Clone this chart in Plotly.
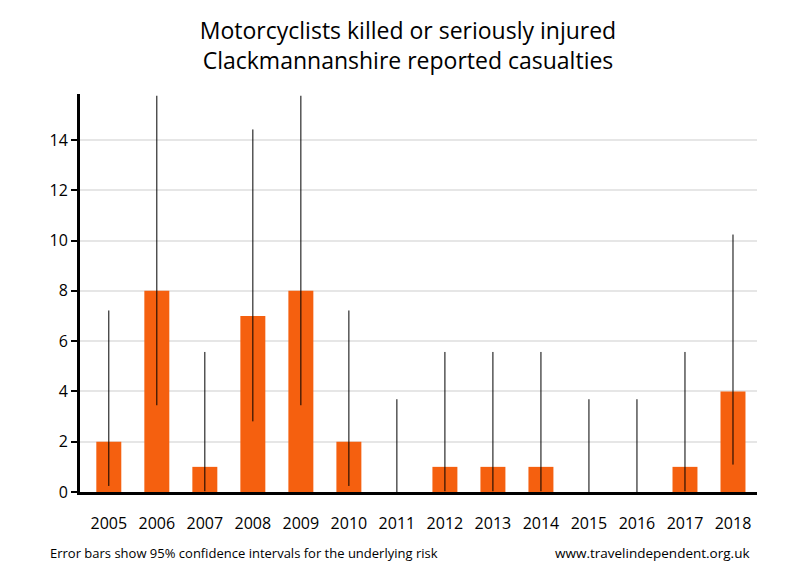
import plotly.graph_objects as go

years = ["2005", "2006", "2007", "2008", "2009", "2010", "2011", "2012", "2013", "2014", "2015", "2016", "2017", "2018"]
casualties = [2, 8, 1, 7, 8, 2, 0, 1, 1, 1, 0, 0, 1, 4]
ci_lower = [0.24, 3.45, 0.03, 2.81, 3.45, 0.24, 0, 0.03, 0.03, 0.03, 0, 0, 0.03, 1.09]
ci_upper = [7.22, 15.76, 5.57, 14.42, 15.76, 7.22, 3.69, 5.57, 5.57, 5.57, 3.69, 3.69, 5.57, 10.24]
y_ticks = [0, 2, 4, 6, 8, 10, 12, 14]

plus = [u - v for u, v in zip(ci_upper, casualties)]
minus = [v - l for v, l in zip(casualties, ci_lower)]

FONT = "Open Sans, Calibri, sans-serif"

fig = go.Figure()
fig.add_trace(go.Bar(
    x=years, y=casualties,
    marker=dict(color="#f5600f", line=dict(width=0)),
    width=0.52,
    error_y=dict(type="data", symmetric=False, array=plus, arrayminus=minus,
                 color="black", thickness=1, width=0),
    hoverinfo="x+y",
))

fig.update_layout(
    width=800, height=580,
    margin=dict(l=72, r=51, t=86, b=96),
    paper_bgcolor="white", plot_bgcolor="white",
    showlegend=False,
    font=dict(family=FONT, color="black", size=15),
    title=dict(text="Motorcyclists killed or seriously injured<br>Clackmannanshire reported casualties",
               x=0.5, xanchor="center", y=0.947, yanchor="top",
               font=dict(size=23, family=FONT, color="black")),
    xaxis=dict(type="category", range=[-0.6, 13.5], showline=True, linecolor="black",
               linewidth=3, ticks="outside", ticklen=15, tickcolor="rgba(0,0,0,0)",
               showgrid=False, tickfont=dict(size=16), fixedrange=True),
    yaxis=dict(range=[0, 15.83], tickvals=y_ticks, showline=True, linecolor="black",
               linewidth=3, ticks="outside", ticklen=6, tickwidth=2, tickcolor="black",
               showgrid=True, gridcolor="#e6e6e6", gridwidth=2, zeroline=False,
               tickfont=dict(size=16), fixedrange=True),
    annotations=[
        dict(text="Error bars show 95% confidence intervals for the underlying risk",
             xref="paper", yref="paper", x=-0.047, y=-0.153, xanchor="left", yanchor="middle",
             showarrow=False, font=dict(size=13, family=FONT)),
        dict(text="www.travelindependent.org.uk",
             xref="paper", yref="paper", x=0.9926, y=-0.153, xanchor="right", yanchor="middle",
             showarrow=False, font=dict(size=13.5, family=FONT)),
    ],
)

fig.write_html("out.html")
